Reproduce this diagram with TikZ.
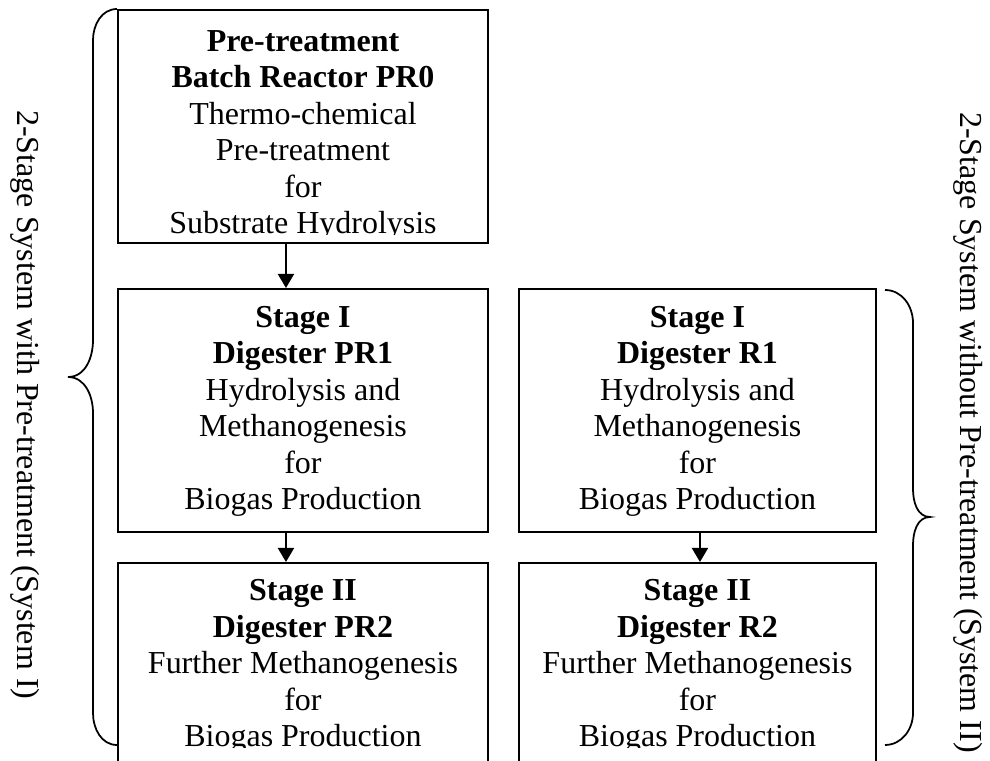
\documentclass[tikz,border=0pt]{standalone}
\usepackage{fontspec}
\setmainfont{Liberation Serif}
\usetikzlibrary{arrows.meta}

\tikzset{box/.style={draw,line width=1.1pt,anchor=north west,inner sep=0pt},
boxtext/.style={font=\fontsize{18.2}{20.8}\selectfont,align=center,anchor=base,inner sep=0pt},
flow/.style={line width=1.1pt,-{Triangle[width=0.32cm,length=0.28cm]}},
curly/.style={line width=1pt},
sidelabel/.style={font=\fontsize{18.2}{20.8}\selectfont,rotate=-90,anchor=west,inner sep=0pt}}

\begin{document}
\begin{tikzpicture}
\useasboundingbox (0,0) rectangle (19.8,15.22);

%% Top left corners of the boxes.
\coordinate (c0) at (2.34,15.04);
\coordinate (c1) at (2.34,9.46);
\coordinate (c2) at (2.34,3.98);
\coordinate (d1) at (10.36,9.46);
\coordinate (d2) at (10.36,3.98);

%% Brace with pre-treatment (left).
\coordinate (lb0) at (2.34,15.04);
\coordinate (lb1) at (1.86,14.42);
\coordinate (lb2) at (1.86,8.42);
\coordinate (lb3) at (1.36,7.68);
\coordinate (lb4) at (1.86,6.96);
\coordinate (lb5) at (1.86,0.96);
\coordinate (lb6) at (2.34,0.32);

%% Brace without pre-treatment (right).
\coordinate (rb0) at (17.70,9.42);
\coordinate (rb1) at (18.26,8.76);
\coordinate (rb2) at (18.26,5.44);
\coordinate (rb3) at (18.60,4.88);
\coordinate (rb4) at (18.26,4.32);
\coordinate (rb5) at (18.26,0.96);
\coordinate (rb6) at (17.70,0.32);

%% boxes
\node [box,minimum width=7.40cm,minimum height=4.66cm] (pr0) at (c0) {};
\node [box,minimum width=7.40cm,minimum height=4.86cm] (pr1) at (c1) {};
\node [box,minimum width=7.40cm,minimum height=5.00cm] (pr2) at (c2) {};
\node [box,minimum width=7.14cm,minimum height=4.86cm] (r1) at (d1) {};
\node [box,minimum width=7.14cm,minimum height=5.00cm] (r2) at (d2) {};

%% box texts, placed by their last baseline
%% (the framed ones stop at that baseline)
\node [boxtext] (pr1 text) at ([yshift=0.46cm]pr1.south) {\textbf{Stage I}\\\textbf{Digester PR1}\\Hydrolysis and\\Methanogenesis\\for\\Biogas Production};
\node [boxtext] (r1 text) at ([yshift=0.46cm]r1.south) {\textbf{Stage I}\\\textbf{Digester R1}\\Hydrolysis and\\Methanogenesis\\for\\Biogas Production};
\begin{scope}
\clip (pr0.north west) rectangle ([yshift=0.18cm]pr0.south east)
      (pr2.north west) rectangle (17.50,0.26);
\node [boxtext] (pr0 text) at ([yshift=0.20cm]pr0.south) {\textbf{Pre-treatment}\\\textbf{Batch Reactor PR0}\\Thermo-chemical\\Pre-treatment\\for\\Substrate Hydrolysis};
\node [boxtext] (pr2 text) at ([yshift=-3.70cm]pr2.north) {\textbf{Stage II}\\\textbf{Digester PR2}\\Further Methanogenesis\\for\\Biogas Production};
\node [boxtext] (r2 text) at ([yshift=-3.70cm]r2.north) {\textbf{Stage II}\\\textbf{Digester R2}\\Further Methanogenesis\\for\\Biogas Production};
\end{scope}

%% arrows
\draw [flow] ([xshift=-0.34cm]pr0.south) -- ([xshift=-0.34cm]pr1.north);
\draw [flow] ([xshift=-0.34cm]pr1.south) -- ([xshift=-0.34cm]pr2.north);
\draw [flow] ([xshift=0.05cm]r1.south) -- ([xshift=0.05cm]r2.north);

%% braces
\draw [curly] (lb0) to[out=180,in=90] (lb1) -- (lb2) to[out=-90,in=0] (lb3)
  to[out=0,in=90] (lb4) -- (lb5) to[out=-90,in=180] (lb6);
\draw [curly] (rb0) to[out=0,in=90] (rb1) -- (rb2) to[out=-90,in=180] (rb3)
  to[out=180,in=90] (rb4) -- (rb5) to[out=-90,in=0] (rb6);

%% system labels
\node [sidelabel] (sys1) at (0.50,13.02) {2-Stage System with Pre-treatment (System I)};
\node [sidelabel] (sys2) at (19.36,12.98) {2-Stage System without Pre-treatment (System II)};

\end{tikzpicture}
\end{document}
